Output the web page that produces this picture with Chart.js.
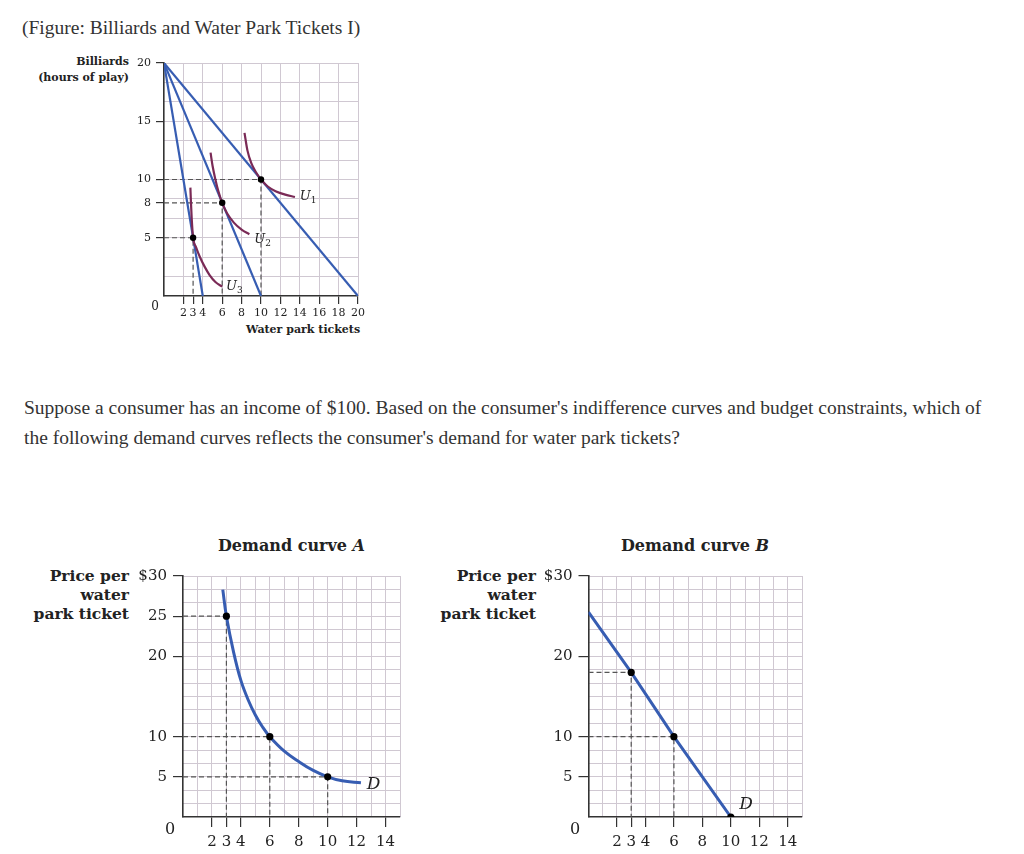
<!DOCTYPE html>
<html>
<head>
<meta charset="utf-8">
<script src="https://cdn.jsdelivr.net/npm/chart.js@4"></script>
<style>
  body { margin: 0; background: #fff; width: 1024px; height: 854px; position: relative; overflow: hidden; }
  .page { position: absolute; font-family: "Liberation Serif", "Times New Roman", serif; font-size: 19.5px; color: #333; white-space: nowrap; }
  .ttl { position: absolute; font-family: "DejaVu Serif", serif; font-weight: bold; color: #222; text-align: right; white-space: nowrap; }
  canvas { position: absolute; }
</style>
</head>
<body>
<div class="page" style="left:22px; top:17px; line-height:22px;">(Figure: Billiards and Water Park Tickets I)</div>
<div class="page" style="left:24px; top:393px; line-height:30px;">Suppose a consumer has an income of $100. Based on the consumer's indifference curves and budget constraints, which of<br>the following demand curves reflects the consumer's demand for water park tickets?</div>

<div class="ttl" style="right:895px; top:54px; font-size:11px; line-height:16px;">Billiards<br>(hours of play)</div>
<div class="ttl" style="left:246px; top:322px; font-size:11px; line-height:16px;">Water park tickets</div>

<div class="ttl" style="left:183px; top:536px; width:217px; text-align:center; font-size:16px;">Demand curve <i>A</i></div>
<div class="ttl" style="right:895px; top:566px; font-size:15.5px; line-height:19px;">Price per<br>water<br>park ticket</div>

<div class="ttl" style="left:588px; top:536px; width:214px; text-align:center; font-size:16px;">Demand curve <i>B</i></div>
<div class="ttl" style="right:488px; top:566px; font-size:15.5px; line-height:19px;">Price per<br>water<br>park ticket</div>

<canvas id="topChart" width="360" height="310" style="left:20px; top:40px;"></canvas>
<canvas id="chartA" width="280" height="294" style="left:130px; top:560px;"></canvas>
<canvas id="chartB" width="280" height="294" style="left:535px; top:560px;"></canvas>

<script>
// ---- top figure: budget lines and indifference curves ----
const billiardsMax = 20;
const budgetIntercepts = [20, 10, 4];          // water park tickets when billiards = 0
const optimumX = [10, 6, 3];
const optimumY = [10, 8, 5];
const u1X = [8.3, 8.6, 9, 9.5, 10, 10.7, 11.5, 12.5, 13.5];
const u1Y = [14, 12.5, 11.4, 10.6, 10, 9.4, 9, 8.7, 8.5];
const u2X = [4.8, 5.0, 5.3, 5.6, 6, 6.5, 7.2, 8, 8.8];
const u2Y = [12.3, 11.2, 10.0, 9.0, 8, 7.1, 6.3, 5.7, 5.3];
const u3X = [2.72, 2.78, 2.86, 3, 3.3, 3.7, 4.2, 4.7, 5.3, 6];
const u3Y = [9.3, 8, 6.6, 5, 4.2, 3.35, 2.5, 1.8, 1.2, 0.8];
const topTicksX = [2, 3, 4, 6, 8, 10, 12, 14, 16, 18, 20];
const topTicksY = [5, 8, 10, 15, 20];

// ---- demand curve A ----
const aX = [2.75, 3, 3.5, 4, 4.5, 5, 5.5, 6, 7, 8, 9, 10, 11, 12.3];
const aY = [28.3, 25, 20.5, 17, 14.6, 12.7, 11.2, 10, 8.2, 6.9, 5.8, 5, 4.5, 4.25];
const aDotsX = [3, 6, 10];
const aDotsY = [25, 10, 5];
const aTicksY = [5, 10, 20, 25, 30];
const aTickLabelsY = ['5', '10', '20', '25', '$30'];

// ---- demand curve B ----
const bX = [0, 3, 6, 10];
const bY = [25.5, 18, 10, 0];
const bDotsX = [3, 6, 10];
const bDotsY = [18, 10, 0];
const bTicksY = [5, 10, 20, 30];
const bTickLabelsY = ['5', '10', '20', '$30'];

const demandTicksX = [2, 3, 4, 6, 8, 10, 12, 14];

const blue = 'rgb(55, 93, 178)';
const purple = 'rgb(122, 42, 86)';
const gridColor = 'rgb(208, 200, 210)';
const axisColor = '#333';
const fontFam = '"DejaVu Serif", serif';

function pts(xs, ys) {
    return xs.map((x, i) => ({ x: x, y: ys[i] }));
}

function dashed(x, y) {
    return {
        data: [{ x: 0, y: y }, { x: x, y: y }, { x: x, y: 0 }],
        showLine: true, borderColor: '#555', borderWidth: 1.2, borderDash: [5, 3],
        pointRadius: 0, order: 5
    };
}

function gridSteps(max, step) {
    return function (s) {
        const t = [];
        for (let i = 1; i * step <= max + 1e-6; i++) t.push({ value: i * step });
        s.ticks = t;
    };
}

function makeScales(o) {
    return {
        xg: {
            type: 'linear', position: 'bottom', min: 0, max: o.xMax,
            afterBuildTicks: gridSteps(o.xMax, o.xGrid),
            ticks: { display: false },
            grid: { color: gridColor, drawTicks: false },
            border: { display: false },
            afterFit: s => { s.height = 0; }
        },
        yg: {
            type: 'linear', position: 'left', min: 0, max: o.yMax,
            afterBuildTicks: gridSteps(o.yMax, o.yGrid),
            ticks: { display: false },
            grid: { color: gridColor, drawTicks: false },
            border: { display: false },
            afterFit: s => { s.width = 0; }
        },
        x: {
            type: 'linear', position: 'bottom', min: 0, max: o.xMax,
            afterBuildTicks: s => { s.ticks = o.xTicks.map(v => ({ value: v })); },
            ticks: { autoSkip: false, maxRotation: 0, minRotation: 0, color: '#222', padding: o.xPad,
                     font: { family: fontFam, size: o.fontSize } },
            grid: { drawOnChartArea: false, drawTicks: true, tickLength: o.tickLen, color: axisColor, lineWidth: 1.2 },
            border: { display: true, color: axisColor, width: 1.6 },
            afterFit: s => { s.height = o.xHeight; }
        },
        y: {
            type: 'linear', position: 'left', min: 0, max: o.yMax,
            afterBuildTicks: s => { s.ticks = o.yTicks.map(v => ({ value: v })); },
            ticks: { autoSkip: false, color: '#222', padding: o.yPad,
                     font: { family: fontFam, size: o.fontSize },
                     callback: (v, i) => o.yLabels ? o.yLabels[i] : String(v) },
            grid: { drawOnChartArea: false, drawTicks: true, tickLength: o.tickLen, color: axisColor, lineWidth: 1.2 },
            border: { display: true, color: axisColor, width: 1.6 },
            afterFit: s => { s.width = o.yWidth; }
        }
    };
}

// draws italic curve labels and the origin "0"
function labelPlugin(items, zero, size, zeroSize) {
    return {
        id: 'labels',
        afterDatasetsDraw(chart) {
            const ctx = chart.ctx;
            const sx = chart.scales.x, sy = chart.scales.y;
            ctx.save();
            ctx.fillStyle = '#222';
            ctx.textBaseline = 'middle';
            ctx.textAlign = 'left';
            items.forEach(it => {
                const px = sx.getPixelForValue(it.x), py = sy.getPixelForValue(it.y);
                ctx.font = 'italic ' + size + 'px ' + fontFam;
                ctx.fillText(it.text, px, py);
                if (it.sub) {
                    const w = ctx.measureText(it.text).width;
                    ctx.font = Math.round(size * 0.7) + 'px ' + fontFam;
                    ctx.fillText(it.sub, px + w, py + size * 0.3);
                }
            });
            ctx.font = zeroSize + 'px ' + fontFam;
            ctx.textAlign = 'center';
            ctx.fillText('0', sx.getPixelForValue(0) + zero[0], sy.getPixelForValue(0) + zero[1]);
            ctx.restore();
        }
    };
}

const baseOptions = (scales, padding) => ({
    responsive: false,
    animation: false,
    layout: { padding: padding },
    plugins: { legend: { display: false }, tooltip: { enabled: false } },
    scales: scales
});

// ---- top chart ----
const topDatasets = [
    { data: pts(optimumX, optimumY), pointRadius: 3.2, pointBackgroundColor: '#000', pointBorderWidth: 0, showLine: false, order: 0 }
];
budgetIntercepts.forEach(b => {
    topDatasets.push({ data: [{ x: 0, y: billiardsMax }, { x: b, y: 0 }], showLine: true,
        borderColor: blue, borderWidth: 2.2, pointRadius: 0, order: 2 });
});
[[u1X, u1Y], [u2X, u2Y], [u3X, u3Y]].forEach(u => {
    topDatasets.push({ data: pts(u[0], u[1]), showLine: true, cubicInterpolationMode: 'monotone',
        borderColor: purple, borderWidth: 2.2, pointRadius: 0, order: 1 });
});
optimumX.forEach((x, i) => topDatasets.push(dashed(x, optimumY[i])));

new Chart(document.getElementById('topChart'), {
    type: 'scatter',
    data: { datasets: topDatasets },
    options: baseOptions(makeScales({
        xMax: 20, yMax: 20, xGrid: 2, yGrid: 5 / 3, xTicks: topTicksX, yTicks: topTicksY,
        fontSize: 11, tickLen: 8, xPad: 3, yPad: 5, xHeight: 54, yWidth: 144
    }), { left: 0, top: 23, right: 22, bottom: 0 }),
    plugins: [labelPlugin([
        { x: 14.0, y: 8.5, text: 'U', sub: '1' },
        { x: 9.3, y: 4.8, text: 'U', sub: '2' },
        { x: 6.4, y: 0.8, text: 'U', sub: '3' }
    ], [-9, 11], 13, 12)]
});

// ---- demand curve A ----
const aDatasets = [
    { data: pts(aDotsX, aDotsY), pointRadius: 3.6, pointBackgroundColor: '#000', pointBorderWidth: 0, showLine: false, order: 0 },
    { data: pts(aX, aY), showLine: true, tension: 0.4, borderColor: blue, borderWidth: 3, pointRadius: 0, order: 1 }
];
aDotsX.forEach((x, i) => aDatasets.push(dashed(x, aDotsY[i])));

new Chart(document.getElementById('chartA'), {
    type: 'scatter',
    data: { datasets: aDatasets },
    options: baseOptions(makeScales({
        xMax: 15, yMax: 30, xGrid: 1, yGrid: 5 / 3, xTicks: demandTicksX, yTicks: aTicksY, yLabels: aTickLabelsY,
        fontSize: 15, tickLen: 10, xPad: 6, yPad: 6, xHeight: 37, yWidth: 53
    }), { left: 0, top: 16, right: 10, bottom: 0 }),
    plugins: [labelPlugin([{ x: 12.7, y: 4.0, text: 'D' }], [-13, 13], 17, 16)]
});

// ---- demand curve B ----
const bDatasets = [
    { data: pts(bDotsX, bDotsY), pointRadius: 3.6, pointBackgroundColor: '#000', pointBorderWidth: 0, showLine: false, order: 0 },
    { data: pts(bX, bY), showLine: true, borderColor: blue, borderWidth: 3, pointRadius: 0, order: 1 }
];
bDotsX.slice(0, 2).forEach((x, i) => bDatasets.push(dashed(x, bDotsY[i])));

new Chart(document.getElementById('chartB'), {
    type: 'scatter',
    data: { datasets: bDatasets },
    options: baseOptions(makeScales({
        xMax: 15, yMax: 30, xGrid: 1, yGrid: 5 / 3, xTicks: demandTicksX, yTicks: bTicksY, yLabels: bTickLabelsY,
        fontSize: 15, tickLen: 10, xPad: 6, yPad: 6, xHeight: 37, yWidth: 53.5
    }), { left: 0, top: 16, right: 13, bottom: 0 }),
    plugins: [labelPlugin([{ x: 10.6, y: 1.6, text: 'D' }], [-13.5, 13], 17, 16)]
});
</script>
</body>
</html>
